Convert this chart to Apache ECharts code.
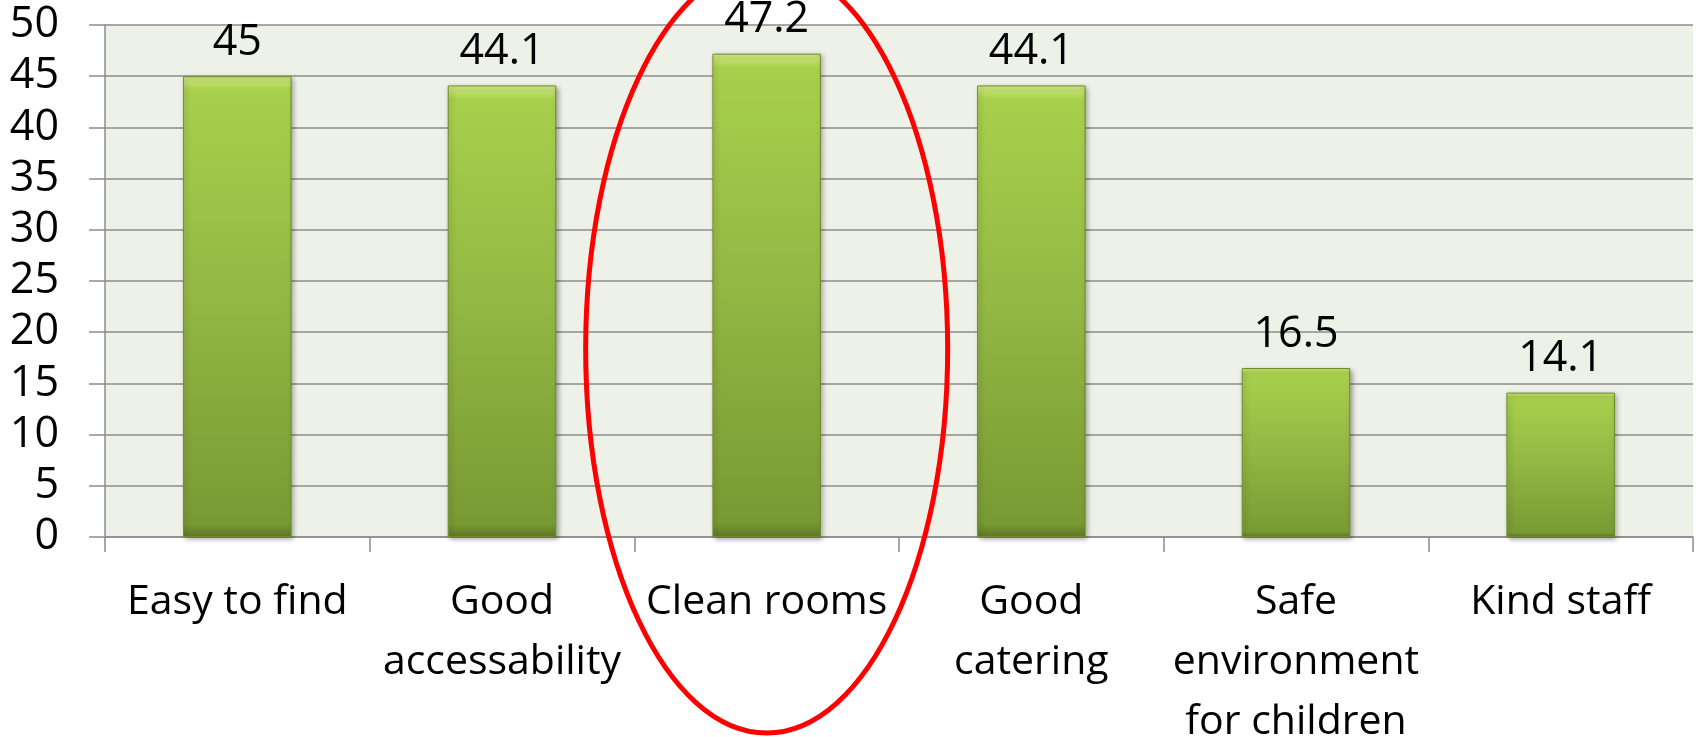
<!DOCTYPE html>
<html>
<head>
<meta charset="utf-8">
<script src="https://cdn.jsdelivr.net/npm/echarts@6/dist/echarts.min.js"></script>
<style>
    html, body {
        margin: 0;
        padding: 0;
        background: #ffffff;
    }
    #chart {
        width: 1696px;
        height: 737px;
    }
</style>
</head>
<body>
<div id="chart"></div>
<script>
// data
const categories = ['Easy to find', 'Good\naccessability', 'Clean rooms', 'Good\ncatering', 'Safe\nenvironment\nfor children', 'Kind staff']
const values = [45, 44.1, 47.2, 44.1, 16.5, 14.1]
const yTicks = { min: 0, max: 50, interval: 5 }
const highlighted = 'Clean rooms'

const fontFamily = '"Open Sans", "Noto Sans", sans-serif'

const chart = echarts.init(document.getElementById('chart'))
chart.setOption({
    animation: false,
    grid: {
        left: 105,
        right: 3,
        top: 25,
        bottom: 200,
        containLabel: false,
        outerBoundsMode: 'none',
        show: true,
        backgroundColor: '#eef1e8',
        borderWidth: 0
    },
    xAxis: {
        type: 'category',
        data: categories,
        boundaryGap: true,
        axisLine: {
            show: true,
            lineStyle: { color: '#8c8c8c', width: 1.5 }
        },
        axisTick: {
            show: true,
            length: 15,
            alignWithLabel: false,
            lineStyle: { color: '#8c8c8c', width: 1.5 }
        },
        axisLabel: {
            interval: 0,
            margin: 35,
            color: '#000',
            fontFamily: fontFamily,
            fontSize: 41,
            lineHeight: 60
        },
        splitLine: { show: false }
    },
    yAxis: {
        type: 'value',
        min: yTicks.min,
        max: yTicks.max,
        interval: yTicks.interval,
        axisLine: {
            show: true,
            lineStyle: { color: '#8c8c8c', width: 1.5 }
        },
        axisTick: {
            show: true,
            length: 16,
            lineStyle: { color: '#8c8c8c', width: 1.5 }
        },
        axisLabel: {
            margin: 46,
            color: '#000',
            fontFamily: fontFamily,
            fontSize: 43
        },
        splitLine: {
            show: true,
            lineStyle: { color: '#8c8c8c', width: 1.5 }
        }
    },
    series: [
        {
            type: 'bar',
            data: values,
            barWidth: '41%',
            itemStyle: {
                color: new echarts.graphic.LinearGradient(0, 0, 0, 1, [
                    { offset: 0, color: '#d2ea86' },
                    { offset: 0.03, color: '#a8d04c' },
                    { offset: 0.5, color: '#92b743' },
                    { offset: 0.97, color: '#799a33' },
                    { offset: 1, color: '#5f7a26' }
                ]),
                borderColor: '#6e8c2c',
                borderWidth: 1,
                shadowColor: 'rgba(0, 0, 0, 0.35)',
                shadowBlur: 5,
                shadowOffsetX: 2,
                shadowOffsetY: 2
            },
            label: {
                show: true,
                position: 'top',
                distance: 12,
                color: '#000',
                fontFamily: fontFamily,
                fontSize: 43
            }
        }
    ]
})

// red ellipse round the highlighted category
const cx = chart.convertToPixel({ xAxisIndex: 0 }, highlighted)
chart.setOption({
    graphic: [
        {
            type: 'ellipse',
            shape: { cx: cx, cy: 349, rx: 181, ry: 384 },
            style: { fill: 'none', stroke: '#ff0000', lineWidth: 5 },
            z: 100
        }
    ]
})
</script>
</body>
</html>
